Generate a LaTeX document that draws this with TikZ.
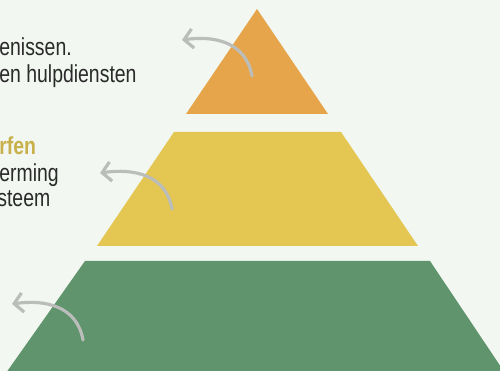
\documentclass[tikz,border=0pt]{standalone}
\usepackage{fontspec}
\setmainfont[FakeStretch=0.79]{Liberation Sans}
\usetikzlibrary{arrows.meta}
\definecolor{bgmint}{HTML}{F2F7F1}
\definecolor{toporange}{HTML}{E6A54B}
\definecolor{midyellow}{HTML}{E4C653}
\definecolor{basegreen}{HTML}{5F946C}
\definecolor{curlgray}{HTML}{BBBDBB}
\definecolor{txtdark}{HTML}{2A2A2A}
\definecolor{headgold}{HTML}{C8B04B}
\tikzset{
  lbl/.style     = {anchor=base west, inner sep=0pt, font=\fontsize{14}{16}\selectfont,
                    text=txtdark},
  lblhead/.style = {lbl, font=\fontsize{14}{16}\selectfont\bfseries, text=headgold},
  curl/.style    = {-{Straight Barb[length=5pt, width=11pt]}, line width=1.8pt,
                    draw=curlgray, line cap=round},
}

\begin{document}
\begin{tikzpicture}[x=0.02cm, y=0.02cm]
\useasboundingbox (0,0) rectangle (500,371);
\fill[bgmint] (0,0) rectangle (500,371);

% pyramid layers
\begin{scope}
\clip (0,0) rectangle (500,371);
\fill[toporange] (257,362) -- (328,257) -- (186,257) -- cycle;
\fill[midyellow] (174,239) -- (341,239) -- (418,125) -- (97,125) -- cycle;
\fill[basegreen] (85,110) -- (430,110) -- (505,-2) -- (6,-2) -- cycle;
\end{scope}

% texts (cut off at the left edge)
\node[lbl] (t1a) at (-1,315) {enissen.};
\node[lbl] (t1b) at (-1,288) {en hulpdiensten};
\node[lblhead] (t2a) at (-1,216) {rfen};
\node[lbl] (t2b) at (-1,189) {erming};
\node[lbl] (t2c) at (-3,164) {steem};

% curved arrows
\coordinate (c1s) at (252,295);
\coordinate (c1e) at (182,331);
\coordinate (c2s) at (172,162);
\coordinate (c2e) at (100,198);
\coordinate (c3s) at (83,31);
\coordinate (c3e) at (12,67);
\draw[curl] (c1s) to[out=100, in=8, looseness=1.1] (c1e);
\draw[curl] (c2s) to[out=100, in=8, looseness=1.1] (c2e);
\draw[curl] (c3s) to[out=100, in=8, looseness=1.1] (c3e);
\end{tikzpicture}
\end{document}
